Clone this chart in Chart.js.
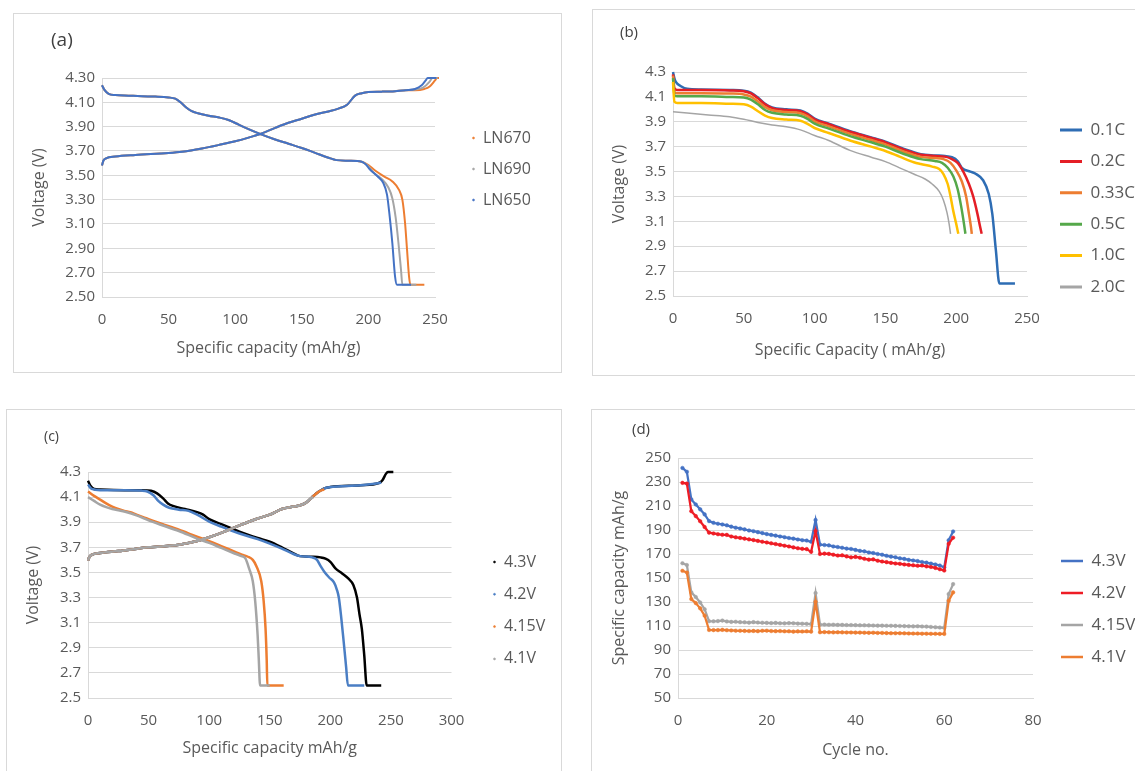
<!DOCTYPE html>
<html>
<head>
<meta charset="utf-8">
<title>Cathode voltage profiles</title>
<script src="https://cdn.jsdelivr.net/npm/chart.js@4.4.1/dist/chart.umd.min.js"></script>
<style>
  html, body { margin: 0; background: #fff; overflow: hidden; }
  body { width: 1135px; height: 771px; position: relative; }
  .panel { position: absolute; border: 1px solid #d9d9d9; box-sizing: border-box; overflow: hidden; }
  .panel canvas { position: absolute; left: 0; top: 0; }
</style>
</head>
<body>
<div class="panel" style="left:13px;top:13px;width:549px;height:360px"><canvas id="chartA" width="547" height="358"></canvas></div>
<div class="panel" style="left:592px;top:9px;width:560px;height:367px"><canvas id="chartB" width="558" height="365"></canvas></div>
<div class="panel" style="left:6px;top:409px;width:556px;height:370px"><canvas id="chartC" width="554" height="368"></canvas></div>
<div class="panel" style="left:591px;top:409px;width:560px;height:370px"><canvas id="chartD" width="558" height="368"></canvas></div>
<script>
// ---- (a) sintering temperature: [capacity mAh/g, voltage V] ----
const aLabels = ["LN670", "LN690", "LN650"];
const aDisShared = [[0,4.24],[2,4.20],[5,4.17],[10,4.16],[20,4.155],[30,4.15],[40,4.147],[50,4.14],[55,4.13],[59,4.10],[63,4.06],[67,4.03],[72,4.01],[80,3.99],[88,3.975],[95,3.955],[100,3.93],[110,3.88],[120,3.835],[130,3.795],[140,3.76],[150,3.725],[160,3.685],[170,3.645],[176,3.625],[185,3.62],[195,3.612]];
const aDisTail670 = [[200,3.585],[205,3.54],[212,3.49],[218,3.45],[223,3.38],[225.5,3.30],[227.5,3.11],[229,2.89],[230.5,2.67],[231.5,2.6],[242,2.6]];
const aDisTail690 = [[199,3.585],[204,3.52],[210,3.47],[215,3.40],[218,3.31],[220.5,3.15],[222.5,2.95],[224.5,2.72],[225.5,2.6],[236,2.6]];
const aDisTail650 = [[198,3.59],[201,3.55],[207,3.49],[211,3.44],[214,3.34],[216,3.16],[218,2.94],[220,2.67],[221.5,2.6],[232,2.6]];
const aChgShared = [[0,3.58],[1,3.62],[3,3.64],[10,3.655],[25,3.668],[50,3.683],[60,3.693],[75,3.72],[90,3.755],[100,3.78],[110,3.81],[120,3.845],[130,3.89],[140,3.932],[150,3.965],[160,4.0],[170,4.025],[178,4.05],[184,4.08],[190,4.155],[195,4.175],[200,4.185],[210,4.188],[220,4.192],[228,4.2]];
const aChgTail670 = [[235,4.2],[242,4.21],[246,4.23],[250,4.28],[251.5,4.3],[253,4.3]];
const aChgTail690 = [[235,4.205],[241,4.22],[246,4.27],[248,4.3],[252,4.3]];
const aChgTail650 = [[235,4.21],[240,4.24],[243,4.28],[244.5,4.3],[251,4.3]];

// ---- (b) C-rate discharge curves ----
const bLabels = ["0.1C", "0.2C", "0.33C", "0.5C", "1.0C", "2.0C"];
const bRate01 = [[0,4.3],[1,4.25],[2,4.22],[5,4.19],[10,4.165],[20,4.16],[40,4.155],[50,4.15],[55,4.135],[60,4.095],[65,4.045],[70,4.015],[80,4.0],[90,3.99],[95,3.965],[100,3.925],[110,3.885],[125,3.825],[140,3.775],[150,3.74],[160,3.695],[170,3.655],[175,3.64],[185,3.63],[192,3.625],[197,3.615],[201,3.585],[204,3.53],[210,3.50],[214,3.48],[219,3.43],[223,3.32],[225.5,3.16],[228,2.87],[230.5,2.6],[241.5,2.6]];
const bRate02 = [[0,4.28],[1,4.17],[3,4.155],[20,4.155],[40,4.152],[50,4.145],[55,4.128],[60,4.088],[65,4.04],[70,4.01],[80,3.995],[90,3.985],[95,3.96],[100,3.92],[110,3.88],[125,3.82],[140,3.77],[150,3.735],[160,3.69],[170,3.65],[175,3.635],[185,3.625],[192,3.62],[197,3.60],[201,3.57],[205,3.50],[209,3.40],[212,3.30],[215,3.16],[217,3.05],[218,3.0]];
const bRate033 = [[0,4.27],[1,4.14],[3,4.13],[20,4.13],[40,4.127],[50,4.12],[55,4.103],[60,4.063],[65,4.018],[70,3.993],[80,3.978],[90,3.968],[95,3.943],[100,3.903],[110,3.863],[125,3.803],[140,3.753],[150,3.718],[160,3.673],[170,3.633],[175,3.618],[185,3.608],[191,3.60],[196,3.57],[200,3.51],[204,3.42],[207,3.30],[209,3.16],[210.5,3.05],[211,3.0]];
const bRate05 = [[0,4.25],[1,4.11],[3,4.105],[20,4.105],[40,4.10],[50,4.095],[55,4.078],[60,4.04],[65,3.995],[70,3.972],[80,3.958],[90,3.948],[95,3.923],[100,3.885],[110,3.845],[125,3.785],[140,3.735],[150,3.70],[160,3.655],[170,3.615],[175,3.60],[185,3.585],[190,3.57],[194,3.53],[198,3.46],[201,3.36],[203.5,3.22],[205.5,3.08],[206.5,3.0]];
const bRate10 = [[0,4.22],[1,4.06],[3,4.05],[20,4.05],[40,4.045],[50,4.04],[55,4.022],[60,3.985],[65,3.95],[70,3.93],[80,3.918],[90,3.908],[95,3.883],[100,3.85],[110,3.81],[125,3.75],[140,3.70],[150,3.665],[160,3.62],[170,3.575],[175,3.56],[183,3.54],[188,3.52],[191,3.48],[194,3.40],[196,3.30],[198,3.18],[200,3.08],[201.5,3.0]];
const bRate20 = [[0,3.98],[10,3.97],[25,3.955],[40,3.94],[50,3.92],[60,3.895],[70,3.875],[80,3.86],[90,3.835],[100,3.79],[110,3.75],[125,3.67],[140,3.615],[150,3.58],[160,3.53],[170,3.48],[178,3.44],[183,3.40],[188,3.34],[191,3.27],[193.5,3.17],[195,3.08],[196,3.0]];

// ---- (c) upper cut-off voltage ----
const cLabels = ["4.3V", "4.2V", "4.15V", "4.1V"];
const cDis43 = [[0,4.23],[2,4.19],[5,4.165],[10,4.16],[30,4.155],[45,4.155],[52,4.15],[57,4.13],[62,4.09],[66,4.05],[70,4.03],[80,4.005],[90,3.98],[95,3.96],[100,3.925],[110,3.885],[125,3.825],[140,3.775],[150,3.745],[160,3.70],[170,3.65],[175,3.63],[185,3.625],[192,3.62],[196,3.61],[200,3.585],[204,3.535],[210,3.49],[215,3.45],[219,3.40],[222,3.30],[224,3.17],[226,3.05],[228,2.84],[230,2.6],[242,2.6]];
const cDis42 = [[0,4.2],[3,4.165],[10,4.155],[30,4.155],[44,4.152],[49,4.145],[54,4.115],[58,4.07],[62,4.04],[67,4.015],[75,4.0],[83,3.99],[90,3.96],[100,3.905],[110,3.865],[125,3.81],[140,3.765],[150,3.73],[160,3.69],[170,3.645],[175,3.63],[185,3.62],[189,3.60],[192,3.55],[195,3.506],[199,3.46],[203,3.42],[205.5,3.36],[207,3.30],[209,3.14],[211,2.95],[213,2.75],[214.5,2.6],[228,2.6]];
const cDis415 = [[0,4.145],[5,4.11],[10,4.08],[15,4.05],[20,4.025],[25,4.005],[30,3.99],[35,3.98],[40,3.96],[50,3.925],[60,3.89],[75,3.84],[90,3.785],[100,3.75],[110,3.71],[120,3.67],[127,3.642],[132,3.625],[136,3.60],[139,3.55],[143,3.43],[145,3.27],[146.5,3.06],[147.5,2.8],[148,2.6],[161.5,2.6]];
const cDis41 = [[0,4.1],[5,4.07],[10,4.04],[15,4.02],[20,4.005],[30,3.985],[40,3.955],[50,3.915],[60,3.88],[75,3.83],[90,3.77],[100,3.735],[110,3.695],[120,3.655],[126,3.632],[130,3.61],[133,3.53],[136,3.43],[138,3.27],[140,3.0],[141,2.8],[142,2.6],[150,2.6]];
const cChgShared = [[0,3.595],[1,3.62],[3,3.64],[10,3.655],[25,3.67],[50,3.70],[75,3.72],[90,3.75],[100,3.78],[110,3.815],[125,3.875],[140,3.93],[150,3.96],[160,4.005],[170,4.025],[175,4.035],[180,4.056]];
const cChgTail43 = [[185,4.1],[190,4.14],[195,4.17],[200,4.18],[225,4.194],[240,4.212],[243,4.234],[246,4.287],[247.5,4.3],[252,4.3]];
const cChgTail42 = [[185,4.1],[190,4.14],[195,4.17],[200,4.18],[225,4.194],[240,4.212],[242,4.215]];
const cChgTail415 = [[185,4.1],[190,4.14],[193,4.155],[195,4.16]];
const cChgTail41 = [[184,4.09],[186,4.1]];

// ---- (d) cycling, specific capacity mAh/g per cycle ----
const dLabels = ["4.3V", "4.2V", "4.15V", "4.1V"];
const dCycles = [1,2,3,4,5,6,7,8,9,10,11,12,13,14,15,16,17,18,19,20,21,22,23,24,25,26,27,28,29,30,31,32,33,34,35,36,37,38,39,40,41,42,43,44,45,46,47,48,49,50,51,52,53,54,55,56,57,58,59,60,61,62];
const dCap43 = [241.7,238.5,215.5,211.3,207.2,203,197.4,196,195.2,194.6,193.9,192.8,191.9,191.3,190.5,189.6,189,188.2,187.4,186.6,185.9,185.3,184.6,184,183.3,182.8,182.1,181.5,181.2,180.2,198.3,177.8,177.5,177.2,176.3,175.8,175.2,174.5,174.2,173.4,172.6,172.2,171.3,170.8,170,169.4,168.5,167.8,167.3,166.4,165.9,165.1,164.6,164.1,163.3,162.8,162,161.3,160.4,158.9,181.5,188.8];
const dCap42 = [229.3,228.7,205.7,201.6,197.3,192.5,187.8,187.1,186.5,186,185.9,184.6,183.9,183.4,182.8,182.2,181.6,180.9,180.2,179.6,178.9,178.3,177.6,176.9,176.3,175.5,174.8,174.3,174.1,171.8,189.1,170,170.3,170.1,169.4,168.7,168.9,168,167.2,167.6,166.9,166,165.3,165.5,164.4,163.7,163.2,162.6,162.1,161.8,161.3,160.9,160.6,160.2,160.4,159.7,159.2,158.4,157.3,156.2,178.5,183.6];
const dCap415 = [162.3,160.8,138,134.2,129.6,124,114,113.9,114.1,114.5,113.8,113.4,113.5,113.2,113.1,112.8,113.2,112.9,112.7,112.6,112.4,112.6,112.3,112.2,112.4,112.3,112,111.9,111.8,111.6,137.4,111.1,111.2,111,111.1,110.9,110.9,110.8,110.8,110.7,110.6,110.6,110.5,110.4,110.3,110.3,110.2,110.2,110.1,110,109.9,109.8,109.7,109.8,109.6,109.5,109.2,109,108.7,108.5,136.6,144.9];
const dCap41 = [156,154.6,132.4,129.1,124.7,118.6,106.7,106.6,106.6,106.8,106.5,106.3,106.1,106,105.9,105.8,105.9,105.7,106,106.1,105.8,105.7,105.8,105.6,105.6,105.3,105.5,105.4,105.6,105.3,130.2,104.8,104.9,104.8,104.7,104.8,104.7,104.6,104.6,104.5,104.5,104.4,104.3,104.4,104.2,104.2,104.1,104,104,104,103.9,103.8,103.7,103.7,103.6,103.6,103.5,103.5,103.4,103.4,131,138];

const FONT = "'Open Sans', sans-serif";
const TEXT = "#595959";
const GRID = "#d9d9d9";
const GAP = [0, null];

const xy = arr => arr.map(p => ({ x: p[0], y: p[1] }));

// moves the legend (position 'chartArea') to a fixed spot beside the plot
const placeLegend = {
  id: "placeLegend",
  afterLayout(chart, args, opts) {
    const lg = chart.legend;
    if (!lg) return;
    lg.left = opts.x - opts.pad;
    lg.right = lg.left + lg.width;
    lg.top = opts.y - opts.fs / 2 - opts.pad;
    lg.bottom = lg.top + lg.height;
  }
};

// small panel letter, (a) (b) ...
const panelTag = {
  id: "panelTag",
  afterDraw(chart, args, opts) {
    const ctx = chart.ctx;
    ctx.save();
    ctx.font = opts.size + "px " + FONT;
    ctx.fillStyle = "#404040";
    ctx.textBaseline = "middle";
    ctx.fillText(opts.text, opts.x, opts.y);
    ctx.restore();
  }
};

function axes(c) {
  return {
    x: {
      type: "linear", min: c.xMin, max: c.xMax,
      grid: { display: false, drawTicks: false },
      border: { color: GRID },
      ticks: { stepSize: c.xStep, padding: 14, color: TEXT, font: { family: FONT, size: 15 } },
      title: { display: true, text: c.xTitle, color: TEXT, padding: 0, font: { family: FONT, size: 16 } },
      afterFit: s => { s.height = c.xH; }
    },
    y: {
      min: c.yMin, max: c.yMax,
      grid: { color: GRID, drawTicks: false },
      border: { color: GRID },
      ticks: {
        stepSize: c.yStep, padding: 7, color: TEXT, font: { family: FONT, size: 15 },
        callback: v => v.toFixed(c.dec)
      },
      title: { display: true, text: c.yTitle, color: TEXT, padding: 0, font: { family: FONT, size: 16 } },
      afterFit: s => { s.width = c.yW; }
    }
  };
}

function legendOpts(fs, pad, dot, lineW) {
  const labels = {
    color: TEXT, font: { family: FONT, size: fs }, padding: pad, usePointStyle: true,
    sort: (a, b) => a.datasetIndex - b.datasetIndex
  };
  if (dot) {
    labels.pointStyle = "circle";
    labels.boxWidth = 3;
    labels.boxHeight = 1.4;
  } else {
    labels.pointStyle = "line";
    labels.pointStyleWidth = 22;
    labels.generateLabels = chart =>
      Chart.defaults.plugins.legend.labels.generateLabels(chart).map(l => Object.assign(l, { lineWidth: lineW }));
  }
  return { position: "chartArea", align: "start", labels };
}

function curve(label, color, data, order, width) {
  return {
    label, data: xy(data), order,
    borderColor: color, backgroundColor: color,
    borderWidth: width, pointRadius: 0, pointHoverRadius: 0, pointBorderWidth: 0.6,
    showLine: true, cubicInterpolationMode: "monotone", spanGaps: false, clip: 8
  };
}

// ---------- (a) ----------
const aColors = ["#ED7D31", "#A5A5A5", "#4472C4"];
new Chart(document.getElementById("chartA"), {
  type: "scatter",
  data: {
    datasets: [
      curve(aLabels[0], aColors[0], [...aDisShared, ...aDisTail670, GAP, ...aChgShared, ...aChgTail670], 3, 2),
      curve(aLabels[1], aColors[1], [...aDisShared, ...aDisTail690, GAP, ...aChgShared, ...aChgTail690], 2, 2),
      curve(aLabels[2], aColors[2], [...aDisShared, ...aDisTail650, GAP, ...aChgShared, ...aChgTail650], 1, 2)
    ]
  },
  options: {
    responsive: false, animation: false,
    layout: { padding: { top: 64, left: 16, right: 126, bottom: 14 } },
    scales: axes({ xMin: 0, xMax: 250, xStep: 50, xH: 61, xTitle: "Specific capacity (mAh/g)",
                   yMin: 2.5, yMax: 4.3, yStep: 0.2, dec: 2, yW: 72, yTitle: "Voltage (V)" }),
    plugins: {
      legend: legendOpts(16, 15, true),
      tooltip: { enabled: false },
      placeLegend: { x: 458, y: 124, pad: 15, fs: 16 },
      panelTag: { text: "(a)", x: 37, y: 27, size: 19 }
    }
  },
  plugins: [placeLegend, panelTag]
});

// ---------- (b) ----------
const bColors = ["#2E6DB4", "#E41E26", "#ED7D31", "#55A84A", "#FFC000", "#A5A5A5"];
const bSeries = [bRate01, bRate02, bRate033, bRate05, bRate10, bRate20];
new Chart(document.getElementById("chartB"), {
  type: "scatter",
  data: {
    datasets: bSeries.map((s, i) => curve(bLabels[i], bColors[i], s, 6 - i, i === 5 ? 1.5 : 2.5))
  },
  options: {
    responsive: false, animation: false,
    layout: { padding: { top: 62, left: 17, right: 124, bottom: 15 } },
    scales: axes({ xMin: 0, xMax: 250, xStep: 50, xH: 64, xTitle: "Specific Capacity ( mAh/g)",
                   yMin: 2.5, yMax: 4.3, yStep: 0.2, dec: 1, yW: 63, yTitle: "Voltage (V)" }),
    plugins: {
      legend: legendOpts(17, 14.4, false, 3),
      tooltip: { enabled: false },
      placeLegend: { x: 467, y: 120, pad: 14.4, fs: 17 },
      panelTag: { text: "(b)", x: 27, y: 23, size: 15 }
    }
  },
  plugins: [placeLegend, panelTag]
});

// ---------- (c) ----------
const cColors = ["#000000", "#4A7EC4", "#ED7D31", "#A5A5A5"];
new Chart(document.getElementById("chartC"), {
  type: "scatter",
  data: {
    datasets: [
      curve(cLabels[0], cColors[0], [...cDis43, GAP, ...cChgShared, ...cChgTail43], 4, 2.5),
      curve(cLabels[1], cColors[1], [...cDis42, GAP, ...cChgShared, ...cChgTail42], 3, 2.5),
      curve(cLabels[2], cColors[2], [...cDis415, GAP, ...cChgShared, ...cChgTail415], 2, 2.5),
      curve(cLabels[3], cColors[3], [...cDis41, GAP, ...cChgShared, ...cChgTail41], 1, 2.5)
    ]
  },
  options: {
    responsive: false, animation: false,
    layout: { padding: { top: 62, left: 17, right: 109.5, bottom: 20 } },
    scales: axes({ xMin: 0, xMax: 300, xStep: 50, xH: 60, xTitle: "Specific capacity mAh/g",
                   yMin: 2.5, yMax: 4.3, yStep: 0.2, dec: 1, yW: 64, yTitle: "Voltage (V)" }),
    plugins: {
      legend: legendOpts(16, 16.3, true),
      tooltip: { enabled: false },
      placeLegend: { x: 486, y: 152, pad: 16.3, fs: 16 },
      panelTag: { text: "(c)", x: 37, y: 27, size: 14 }
    }
  },
  plugins: [placeLegend, panelTag]
});

// ---------- (d) ----------
const dColors = ["#4472C4", "#EE1C25", "#A5A5A5", "#ED7D31"];
const dSeries = [dCap43, dCap42, dCap415, dCap41];
new Chart(document.getElementById("chartD"), {
  type: "scatter",
  data: {
    datasets: dSeries.map((s, i) => ({
      label: dLabels[i],
      data: dCycles.map((c, k) => ({ x: c, y: s[k] })),
      order: 4 - i,
      borderColor: dColors[i], backgroundColor: dColors[i],
      borderWidth: 2.25, pointRadius: 1.8, pointBorderWidth: 0.5, pointHoverRadius: 0,
      showLine: true, tension: 0
    }))
  },
  options: {
    responsive: false, animation: false,
    layout: { padding: { top: 48, left: 18, right: 117, bottom: 18 } },
    scales: axes({ xMin: 0, xMax: 80, xStep: 20, xH: 62, xTitle: "Cycle no.",
                   yMin: 50, yMax: 250, yStep: 20, dec: 0, yW: 68, yTitle: "Specific capacity mAh/g" }),
    plugins: {
      legend: legendOpts(17, 15, false, 2.5),
      tooltip: { enabled: false },
      placeLegend: { x: 469, y: 151, pad: 15, fs: 17 },
      panelTag: { text: "(d)", x: 40, y: 20, size: 15 }
    }
  },
  plugins: [placeLegend, panelTag]
});
</script>
</body>
</html>
